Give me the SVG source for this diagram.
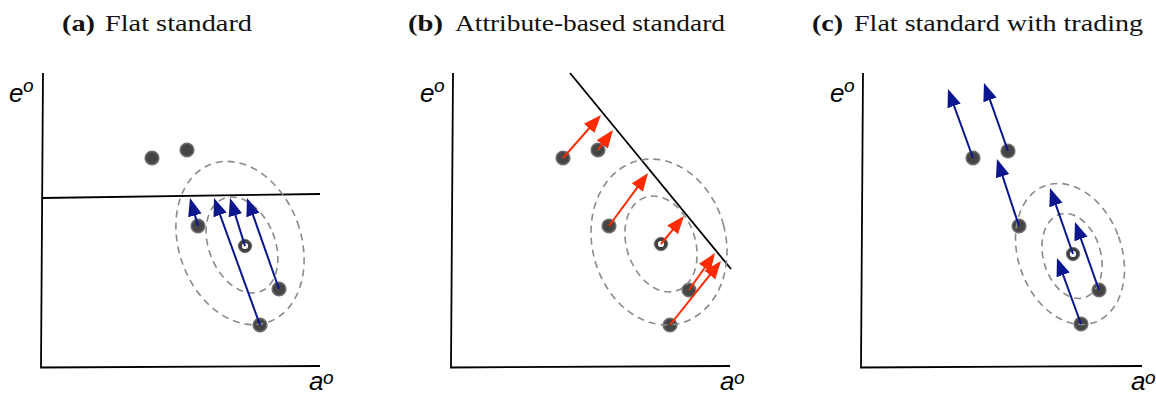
<svg xmlns="http://www.w3.org/2000/svg" width="1156" height="394" viewBox="0 0 1156 394">
<style>
.title{font-family:"Liberation Serif","Times New Roman",serif;font-size:24px;fill:#111}
.b{font-weight:bold}
.ax{font-family:"Liberation Sans",Arial,sans-serif;font-style:italic;fill:#000}
.axis{fill:none;stroke:#000;stroke-width:1.8}
.std{fill:none;stroke:#000;stroke-width:1.8}
.ell{fill:none;stroke:#8a8a8a;stroke-width:1.6;stroke-dasharray:7 5}
.dot{fill:#454545;stroke:#6e6e6e;stroke-width:1.6}
.ring{fill:#fff;stroke:#404040;stroke-width:3.4}
.halo{fill:none;stroke:#8a8a8a;stroke-width:1}
.blue{stroke:#0b168f;stroke-width:2;fill:none}
.red{stroke:#ff2a00;stroke-width:2;fill:none}
</style>
<defs>
<marker id="hb" markerUnits="userSpaceOnUse" markerWidth="19" markerHeight="15" refX="15" refY="7" orient="auto" viewBox="0 0 19 15">
<path d="M0,0 L18,7 L0,14 z" fill="#0b168f"/>
</marker>
<marker id="hr" markerUnits="userSpaceOnUse" markerWidth="19" markerHeight="15" refX="15" refY="7" orient="auto" viewBox="0 0 19 15">
<path d="M0,0 L18,7 L0,14 z" fill="#ff2a00"/>
</marker>
</defs>

<!-- Panel (a) -->
<g id="panel-a">
<text class="title" x="62" y="31"><tspan class="b" textLength="33" lengthAdjust="spacingAndGlyphs">(a)</tspan></text>
<text class="title" x="105" y="31" textLength="147" lengthAdjust="spacingAndGlyphs">Flat standard</text>
<path class="axis" d="M43,73 L41,367.5 L320,366"/>
<text class="ax" x="9" y="102" font-size="26">e</text><text class="ax" x="23" y="92" font-size="19">o</text>
<text class="ax" x="309" y="390" font-size="26">a</text><text class="ax" x="323" y="384" font-size="19">o</text>
<line class="std" x1="42" y1="198" x2="320" y2="194"/>
<g id="a-dots">
<circle class="dot" cx="152" cy="158" r="6.8"/>
<circle class="dot" cx="187" cy="150" r="6.8"/>
<circle class="dot" cx="198" cy="226" r="6.8"/>
<circle class="dot" cx="279" cy="289" r="6.8"/>
<circle class="dot" cx="260" cy="325" r="6.8"/>
<circle class="halo" cx="245" cy="246" r="6.8"/>
<circle class="ring" cx="245" cy="246" r="4.8"/>
</g>
<ellipse class="ell" cx="240" cy="243" rx="61" ry="84" transform="rotate(-20 240 243)"/>
<ellipse class="ell" cx="242" cy="245" rx="33" ry="50" transform="rotate(-22 242 245)"/>
</g>

<!-- Panel (b) -->
<g id="panel-b">
<text class="title" x="408" y="31"><tspan class="b" textLength="35" lengthAdjust="spacingAndGlyphs">(b)</tspan></text>
<text class="title" x="455" y="31" textLength="270" lengthAdjust="spacingAndGlyphs">Attribute-based standard</text>
<path class="axis" d="M453,73 L451,367.5 L730,366"/>
<text class="ax" x="420" y="102" font-size="26">e</text><text class="ax" x="434" y="92" font-size="19">o</text>
<text class="ax" x="720" y="390" font-size="26">a</text><text class="ax" x="734" y="384" font-size="19">o</text>
<line class="std" x1="570" y1="73" x2="731" y2="269"/>
<g id="b-dots">
<circle class="dot" cx="563" cy="158" r="6.8"/>
<circle class="dot" cx="598" cy="150" r="6.8"/>
<circle class="dot" cx="609" cy="226" r="6.8"/>
<circle class="dot" cx="689" cy="290" r="6.8"/>
<circle class="dot" cx="670" cy="325" r="6.8"/>
<circle class="halo" cx="661" cy="244" r="6.8"/>
<circle class="ring" cx="661" cy="244" r="4.8"/>
</g>
<ellipse class="ell" cx="659" cy="242" rx="66.7" ry="84" transform="rotate(-15 659 242)"/>
<ellipse class="ell" cx="661" cy="244" rx="34.2" ry="49.3" transform="rotate(-19 661 244)"/>
</g>

<!-- Panel (c) -->
<g id="panel-c">
<text class="title" x="812" y="31"><tspan class="b" textLength="31" lengthAdjust="spacingAndGlyphs">(c)</tspan></text>
<text class="title" x="854" y="31" textLength="289" lengthAdjust="spacingAndGlyphs">Flat standard with trading</text>
<path class="axis" d="M863,73 L861,367.5 L1142,366"/>
<text class="ax" x="830" y="102" font-size="26">e</text><text class="ax" x="844" y="92" font-size="19">o</text>
<text class="ax" x="1131" y="390" font-size="26">a</text><text class="ax" x="1145" y="384" font-size="19">o</text>
<g id="c-dots">
<circle class="dot" cx="973" cy="158" r="6.8"/>
<circle class="dot" cx="1008" cy="151" r="6.8"/>
<circle class="dot" cx="1019" cy="226" r="6.8"/>
<circle class="dot" cx="1099" cy="290" r="6.8"/>
<circle class="dot" cx="1081" cy="324" r="6.8"/>
<circle class="halo" cx="1073" cy="254" r="6.8"/>
<circle class="ring" cx="1073" cy="254" r="4.8"/>
</g>
<ellipse class="ell" cx="1070" cy="254" rx="51.6" ry="72.7" transform="rotate(-20 1070 254)"/>
<ellipse class="ell" cx="1072" cy="256" rx="28.7" ry="43.4" transform="rotate(-16 1072 256)"/>
</g>

<!-- Connectors -->
<g id="connectors">
<line class="blue" marker-end="url(#hb)" x1="198" y1="226" x2="190.8" y2="200.9"/>
<line class="blue" marker-end="url(#hb)" x1="260" y1="325" x2="215" y2="200.8"/>
<line class="blue" marker-end="url(#hb)" x1="245" y1="246" x2="230.9" y2="200.9"/>
<line class="blue" marker-end="url(#hb)" x1="279" y1="289" x2="248" y2="200.8"/>

<line class="red" marker-end="url(#hr)" x1="563" y1="158" x2="599" y2="117.2"/>
<line class="red" marker-end="url(#hr)" x1="598" y1="150" x2="611.2" y2="132.4"/>
<line class="red" marker-end="url(#hr)" x1="609" y1="226" x2="646.2" y2="175.4"/>
<line class="red" marker-end="url(#hr)" x1="661" y1="244" x2="682.1" y2="218.3"/>
<line class="red" marker-end="url(#hr)" x1="689" y1="290" x2="713.3" y2="255.5"/>
<line class="red" marker-end="url(#hr)" x1="670" y1="325" x2="719.1" y2="263.3"/>

<line class="blue" marker-end="url(#hb)" x1="973" y1="158" x2="949" y2="91.8"/>
<line class="blue" marker-end="url(#hb)" x1="1008" y1="151" x2="985" y2="85.8"/>
<line class="blue" marker-end="url(#hb)" x1="1019" y1="226" x2="997.9" y2="161.9"/>
<line class="blue" marker-end="url(#hb)" x1="1073" y1="254" x2="1051" y2="190.8"/>
<line class="blue" marker-end="url(#hb)" x1="1099" y1="290" x2="1076" y2="224.8"/>
<line class="blue" marker-end="url(#hb)" x1="1081" y1="324" x2="1058" y2="260.8"/>
</g>
</svg>
